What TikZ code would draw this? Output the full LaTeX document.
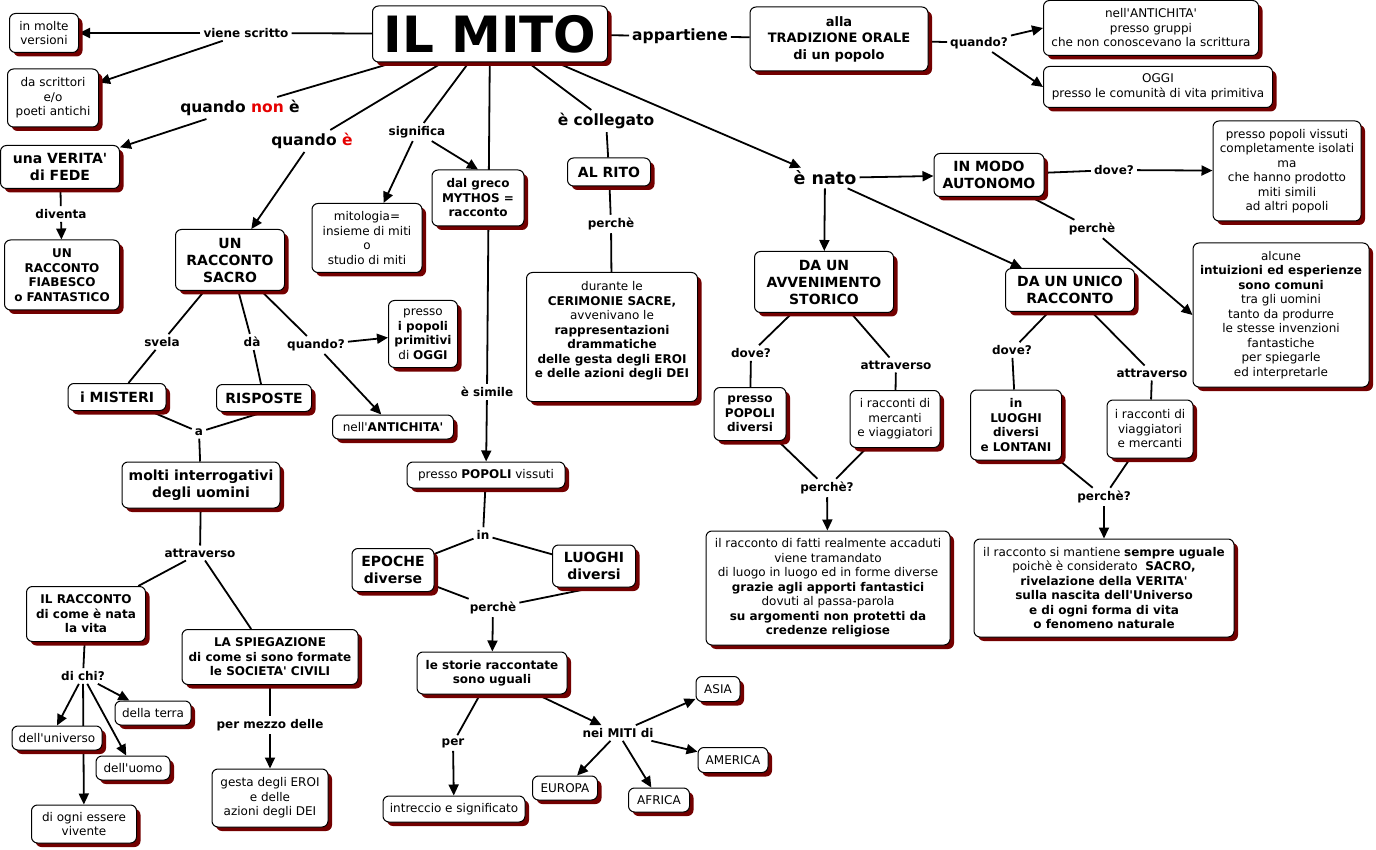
\documentclass[tikz,border=0pt]{standalone}
\usepackage{fontspec}
\setmainfont{DejaVu Sans}
\usepackage{xcolor}
\usepackage{tikz}
\usetikzlibrary{arrows.meta,shadows,backgrounds}
\definecolor{ombra}{RGB}{115,0,0}
\definecolor{rosso}{RGB}{230,0,0}
\newcommand\ap{\XeTeXglyph\XeTeXcharglyph"0027\relax}
\begin{document}
\begin{tikzpicture}[x=1pt,y=-1pt,
box/.style={draw,line width=1pt,rounded corners=6pt,fill=white,align=center,inner sep=2pt,drop shadow={shadow xshift=4pt,shadow yshift=-4pt,fill=ombra,opacity=1}},
tx/.style={font=\fontsize{12}{14.5}\selectfont},
tb/.style={font=\bfseries\fontsize{12}{14.5}\selectfont},
tg/.style={font=\bfseries\fontsize{14}{17}\selectfont},
lab/.style={font=\bfseries\fontsize{12}{14.5}\selectfont,inner sep=3pt},
labg/.style={font=\bfseries\fontsize{15.5}{18}\selectfont,inner sep=3pt},
lin/.style={line width=1.8pt},
fr/.style={line width=1.8pt,-{Triangle[length=11pt,width=10pt]}}]
\useasboundingbox (0,0) rectangle (1376,850);
\node[box,minimum width=235,minimum height=56,font=\bfseries\fontsize{50}{50}\selectfont] (mito) at (490,34) {IL MITO};
\node[box,tx,minimum width=69,minimum height=39] (versioni) at (44,33) {in molte\\versioni};
\node[box,tx,minimum width=91,minimum height=58] (scrittori) at (53,98) {da scrittori\\e/o\\ poeti antichi};
\node[box,font=\bfseries\fontsize{13}{16.5}\selectfont,minimum width=178,minimum height=64] (orale) at (839,39) {alla\\TRADIZIONE ORALE\\di un popolo};
\node[box,tx,minimum width=215,minimum height=55] (gruppi) at (1151,28) {nell\ap ANTICHITA\ap\\presso gruppi\\che non conoscevano la scrittura};
\node[box,tx,minimum width=229,minimum height=41] (oggi) at (1158,87) {OGGI\\presso le comunità di vita primitiva};
\node[box,tg,minimum width=119,minimum height=43] (verita) at (60,167) {una VERITA\ap\\di FEDE};
\node[box,tb,minimum width=115,minimum height=70] (fiabesco) at (62,275) {UN\\RACCONTO\\FIABESCO\\o FANTASTICO};
\node[box,tg,minimum width=109,minimum height=61] (sacro) at (230,260) {UN\\RACCONTO\\SACRO};
\node[box,tx,minimum width=110,minimum height=69] (mitologia) at (367,238) {mitologia=\\insieme di miti\\o\\studio di miti};
\node[box,tb,minimum width=92,minimum height=56] (greco) at (478,198) {dal greco\\MYTHOS =\\racconto};
\node[box,tg,minimum width=83,minimum height=28] (rito) at (609,172) {AL RITO};
\node[box,tx,minimum width=171,minimum height=129] (cerimonie) at (612,337) {durante le\\\textbf{CERIMONIE SACRE,}\\avvenivano le\\\textbf{rappresentazioni}\\\textbf{drammatiche}\\\textbf{delle gesta degli EROI}\\\textbf{e delle azioni degli DEI}\\ \mbox{}};
\node[box,tg,minimum width=110,minimum height=43] (autonomo) at (989,175) {IN MODO\\AUTONOMO};
\node[box,tx,minimum width=148,minimum height=100] (isolati) at (1287,171) {presso popoli vissuti\\completamente isolati\\ma\\che hanno prodotto\\miti simili\\ad altri popoli};
\node[box,tx,minimum width=176,minimum height=144] (intuizioni) at (1281,315) {alcune\\\textbf{intuizioni ed esperienze}\\\textbf{sono comuni}\\tra gli uomini\\tanto da produrre\\le stesse invenzioni\\fantastiche\\per spiegarle\\ed interpretarle};
\node[box,tg,minimum width=139,minimum height=61] (avvenimento) at (824,282) {DA UN\\AVVENIMENTO\\STORICO};
\node[box,tg,minimum width=129,minimum height=43] (unico) at (1070,290) {DA UN UNICO\\RACCONTO};
\node[box,tb,minimum width=72,minimum height=53] (popdiversi) at (750,414) {presso\\POPOLI\\diversi};
\node[box,tx,minimum width=90,minimum height=57] (mercanti) at (895,419) {i racconti di\\mercanti\\e viaggiatori};
\node[box,tx,minimum width=244,minimum height=114] (fatti) at (828,588) {il racconto di fatti realmente accaduti\\viene tramandato\\di luogo in luogo ed in forme diverse\\\textbf{grazie agli apporti fantastici}\\dovuti al passa-parola\\\textbf{su argomenti non protetti da}\\\textbf{credenze religiose}};
\node[box,tb,minimum width=91,minimum height=70] (lontani) at (1016,425) {in\\LUOGHI\\diversi\\e LONTANI};
\node[box,tx,minimum width=86,minimum height=58] (viaggiatori) at (1150,429) {i racconti di\\viaggiatori\\e mercanti};
\node[box,tx,minimum width=260,minimum height=98] (uguale) at (1104,588) {il racconto si mantiene \textbf{sempre uguale}\\poichè è considerato \ \textbf{SACRO,}\\\textbf{rivelazione della VERITA\ap}\\\textbf{sulla nascita dell\ap Universo}\\\textbf{e di ogni forma di vita}\\\textbf{o fenomeno naturale}};
\node[box,tx,minimum width=69,minimum height=67] (primitivi) at (423,334) {presso\\\textbf{i popoli}\\\textbf{primitivi}\\di \textbf{OGGI}};
\node[box,tx,minimum width=121,minimum height=24] (antico) at (393,427) {nell\ap\textbf{ANTICHITA\ap}};
\node[box,tg,minimum width=98,minimum height=27] (misteri) at (117,397) {i MISTERI};
\node[box,tg,minimum width=95,minimum height=27] (risposte) at (264,398) {RISPOSTE};
\node[box,tg,minimum width=158,minimum height=46] (interrogativi) at (201,485) {molti interrogativi\\degli uomini};
\node[box,tb,minimum width=119,minimum height=55] (nascita) at (86,614) {IL RACCONTO\\di come è nata\\la vita};
\node[box,tb,minimum width=176,minimum height=55] (spiegazione) at (270,657) {LA SPIEGAZIONE\\di come si sono formate\\le SOCIETA\ap{} CIVILI};
\node[box,tx,minimum width=76,minimum height=24] (terra) at (153,713) {della terra};
\node[box,tx,minimum width=90,minimum height=24] (universo) at (57,738) {dell\ap universo};
\node[box,tx,minimum width=74,minimum height=24] (uomo) at (133,768) {dell\ap uomo};
\node[box,tx,minimum width=105,minimum height=38] (vivente) at (84,824) {di ogni essere\\vivente};
\node[box,tx,minimum width=116,minimum height=58] (gesta) at (270,798) {gesta degli EROI\\e delle\\azioni degli DEI};
\node[box,tx,minimum width=158,minimum height=26] (vissuti) at (486,475) {presso \textbf{POPOLI} vissuti};
\node[box,tg,minimum width=82,minimum height=43] (epoche) at (393,570) {EPOCHE\\diverse};
\node[box,tg,minimum width=83,minimum height=42] (luoghi) at (594,566) {LUOGHI\\diversi};
\node[box,tb,minimum width=150,minimum height=42] (storie) at (492,673) {le storie raccontate\\sono uguali};
\node[box,tx,minimum width=142,minimum height=26] (intreccio) at (454,809) {intreccio e significato};
\node[box,tx,minimum width=44,minimum height=25] (asia) at (718,689) {ASIA};
\node[box,tx,minimum width=70,minimum height=25] (america) at (733,760) {AMERICA};
\node[box,tx,minimum width=65,minimum height=24] (europa) at (565,788) {EUROPA};
\node[box,tx,minimum width=61,minimum height=24] (africa) at (659,800) {AFRICA};
\node[lab] (lscritto) at (246,33) {viene scritto};
\node[labg] (lappartiene) at (680,36) {appartiene};
\node[lab] (lquando) at (979,43) {quando?};
\node[labg] (lnon) at (240,108) {quando \textcolor{rosso}{non} è};
\node[lab] (ldiventa) at (61,214) {diventa};
\node[labg] (lquandoe) at (312,141) {quando \textcolor{rosso}{è}};
\node[lab] (lsignifica) at (417,132) {significa};
\node[lab] (lsimile) at (487,392) {è simile};
\node[labg] (lcollegato) at (606,121) {è collegato};
\node[lab] (lperrito) at (611,224) {perchè};
\node[lab,font=\bfseries\fontsize{17.5}{20}\selectfont] (lnato) at (825,178) {è nato};
\node[lab] (ldoveauto) at (1114,170) {dove?};
\node[lab] (lperauto) at (1092,229) {perchè};
\node[lab] (ldoveavv) at (751,353) {dove?};
\node[lab] (lattravv) at (896,365) {attraverso};
\node[lab] (lperavv) at (827,488) {perchè?};
\node[lab] (ldoveuni) at (1012,350) {dove?};
\node[lab] (lattruni) at (1152,373) {attraverso};
\node[lab] (lperuni) at (1104,497) {perchè?};
\node[lab] (lsvela) at (162,342) {svela};
\node[lab] (lda) at (252,342) {dà};
\node[lab] (lquandos) at (316,345) {quando?};
\node[lab] (la) at (199,432) {a};
\node[lab] (lattrint) at (200,553) {attraverso};
\node[lab] (ldichi) at (83,676) {di chi?};
\node[lab] (lmezzo) at (270,725) {per mezzo delle};
\node[lab] (lin) at (483,535) {in};
\node[lab] (lperepo) at (493,608) {perchè};
\node[lab] (lper) at (453,743) {per};
\node[lab] (lmiti) at (618,733) {nei MITI di};
\begin{scope}[on background layer]
\fill[white] (0,0) rectangle (1376,850);
\draw[lin] (mito) -- (lscritto);
\draw[fr] (lscritto) -- (versioni);
\draw[fr] (lscritto) -- (scrittori);
\draw[lin] (mito) -- (lappartiene);
\draw[lin] (lappartiene) -- (orale);
\draw[lin] (orale) -- (lquando);
\draw[fr] (lquando) -- (gruppi.west);
\draw[fr] (lquando) -- (oggi.west);
\draw[lin] (mito) -- (lnon);
\draw[fr] (lnon) -- (verita);
\draw[lin] (verita) -- (ldiventa);
\draw[fr] (ldiventa) -- (fiabesco);
\draw[lin] (mito) -- (lquandoe);
\draw[fr] (lquandoe) -- (sacro);
\draw[lin] (mito) -- (lsignifica);
\draw[fr] (lsignifica) -- (mitologia);
\draw[fr] (lsignifica) -- (greco.north);
\draw[lin] (mito) -- (lsimile);
\draw[fr] (lsimile) -- (vissuti);
\draw[lin] (mito) -- (lcollegato);
\draw[lin] (lcollegato) -- (rito);
\draw[lin] (rito) -- (lperrito);
\draw[lin] (lperrito) -- (cerimonie);
\draw[fr] (mito) -- (lnato);
\draw[fr] (lnato) -- (autonomo);
\draw[fr] (lnato) -- (avvenimento);
\draw[fr] (lnato) -- (unico);
\draw[lin] (autonomo) -- (ldoveauto);
\draw[fr] (ldoveauto) -- (isolati);
\draw[lin] (autonomo) -- (lperauto);
\draw[fr] (lperauto) -- (intuizioni.west);
\draw[lin] (avvenimento) -- (ldoveavv);
\draw[lin] (ldoveavv) -- (popdiversi);
\draw[lin] (avvenimento) -- (lattravv);
\draw[lin] (lattravv) -- (mercanti);
\draw[lin] (popdiversi) -- (lperavv);
\draw[lin] (mercanti) -- (lperavv);
\draw[fr] (lperavv) -- (fatti);
\draw[lin] (unico) -- (ldoveuni);
\draw[lin] (ldoveuni) -- (lontani);
\draw[lin] (unico) -- (lattruni);
\draw[lin] (lattruni) -- (viaggiatori);
\draw[lin] (lontani) -- (lperuni);
\draw[lin] (viaggiatori) -- (lperuni);
\draw[fr] (lperuni) -- (uguale);
\draw[lin] (sacro) -- (lsvela);
\draw[lin] (lsvela) -- (misteri);
\draw[lin] (sacro) -- (lda);
\draw[lin] (lda) -- (risposte);
\draw[lin] (sacro) -- (lquandos);
\draw[fr] (lquandos) -- (primitivi);
\draw[fr] (lquandos) -- (antico);
\draw[lin] (misteri) -- (la);
\draw[lin] (risposte.south) -- (la);
\draw[lin] (la) -- (interrogativi);
\draw[lin] (interrogativi) -- (lattrint);
\draw[lin] (lattrint) -- (nascita);
\draw[lin] (lattrint) -- (spiegazione);
\draw[lin] (nascita) -- (ldichi);
\draw[fr] (ldichi) -- (universo.north);
\draw[fr] (ldichi) -- (vivente);
\draw[fr] (ldichi) -- (terra);
\draw[fr] (ldichi) -- (uomo);
\draw[lin] (spiegazione) -- (lmezzo);
\draw[fr] (lmezzo) -- (gesta);
\draw[lin] (vissuti) -- (lin);
\draw[lin] (lin) -- (epoche);
\draw[lin] (lin) -- (luoghi);
\draw[lin] (epoche) -- (lperepo);
\draw[lin] (luoghi.south) -- (lperepo);
\draw[fr] (lperepo) -- (storie);
\draw[lin] (storie) -- (lper);
\draw[fr] (lper) -- (intreccio);
\draw[fr] (storie) -- (lmiti);
\draw[fr] (lmiti) -- (asia);
\draw[fr] (lmiti) -- (america);
\draw[fr] (lmiti) -- (europa);
\draw[fr] (lmiti) -- (africa);
\end{scope}
\end{tikzpicture}
\end{document}
